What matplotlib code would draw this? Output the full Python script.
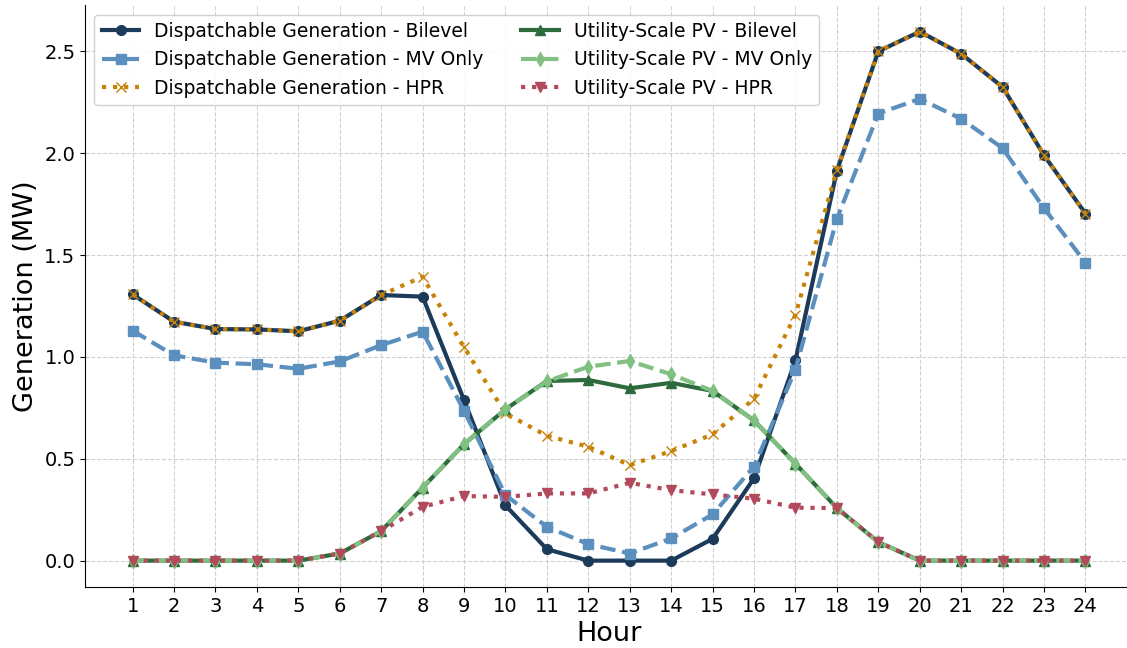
import matplotlib
matplotlib.use("Agg")
import matplotlib.pyplot as plt
import numpy as np

hours = np.arange(1, 25)

# dispatchable generation (MW)
dg_bilevel = [1.307, 1.173, 1.137, 1.135, 1.126, 1.178, 1.304, 1.296, 0.788, 0.271, 0.056, 0.0,
              0.0, 0.0, 0.107, 0.404, 0.983, 1.914, 2.50, 2.597, 2.488, 2.325, 1.99, 1.704]
dg_mv = [1.129, 1.008, 0.972, 0.964, 0.942, 0.978, 1.058, 1.124, 0.736, 0.322, 0.166, 0.081,
         0.035, 0.109, 0.227, 0.462, 0.938, 1.678, 2.195, 2.267, 2.169, 2.025, 1.73, 1.463]
dg_hpr = [1.307, 1.173, 1.137, 1.135, 1.126, 1.178, 1.304, 1.394, 1.047, 0.723, 0.613, 0.559,
          0.469, 0.538, 0.62, 0.795, 1.207, 1.92, 2.50, 2.597, 2.488, 2.325, 1.99, 1.704]

# utility-scale PV (MW)
pv_bilevel = [0, 0, 0, 0, 0, 0.035, 0.145, 0.358, 0.572, 0.743, 0.882, 0.887,
              0.846, 0.873, 0.833, 0.688, 0.476, 0.258, 0.091, 0, 0, 0, 0, 0]
pv_mv = [0, 0, 0, 0, 0, 0.035, 0.145, 0.358, 0.572, 0.743, 0.88, 0.952,
         0.98, 0.915, 0.833, 0.688, 0.476, 0.258, 0.091, 0, 0, 0, 0, 0]
pv_hpr = [0, 0, 0, 0, 0, 0.035, 0.145, 0.264, 0.317, 0.313, 0.33, 0.33,
          0.382, 0.346, 0.325, 0.304, 0.26, 0.258, 0.091, 0, 0, 0, 0, 0]

fig = plt.figure(figsize=(11.27, 6.48), dpi=100)
ax = fig.add_axes([0.0754, 0.094, 0.93, 0.898])

ax.plot(hours, dg_bilevel, color='#1c3a5a', ls='-', marker='o', lw=3, ms=7,
        label='Dispatchable Generation - Bilevel')
ax.plot(hours, dg_mv, color='#5b8fbe', ls='--', marker='s', lw=3, ms=7,
        label='Dispatchable Generation - MV Only')
ax.plot(hours, dg_hpr, color='#c98208', ls=':', marker='x', lw=3, ms=7,
        label='Dispatchable Generation - HPR')
ax.plot(hours, pv_bilevel, color='#2e6b3c', ls='-', marker='^', lw=3, ms=7,
        label='Utility-Scale PV - Bilevel')
ax.plot(hours, pv_mv, color='#80c080', ls='--', marker='d', lw=3, ms=7,
        label='Utility-Scale PV - MV Only')
ax.plot(hours, pv_hpr, color='#b24a5c', ls=':', marker='v', lw=3, ms=7,
        label='Utility-Scale PV - HPR')

ax.set_xticks(hours)
ax.tick_params(labelsize=14)
ax.set_xlabel('Hour', fontsize=19.5)
ax.set_ylabel('Generation (MW)', fontsize=19.5)
ax.grid(True, ls='--', color='#d0d0d0', lw=0.8)
ax.spines['top'].set_visible(False)
ax.spines['right'].set_visible(False)
ax.legend(loc='upper left', ncol=2, fontsize=13.5, framealpha=0.9)

fig.savefig('out.png', dpi=100)
